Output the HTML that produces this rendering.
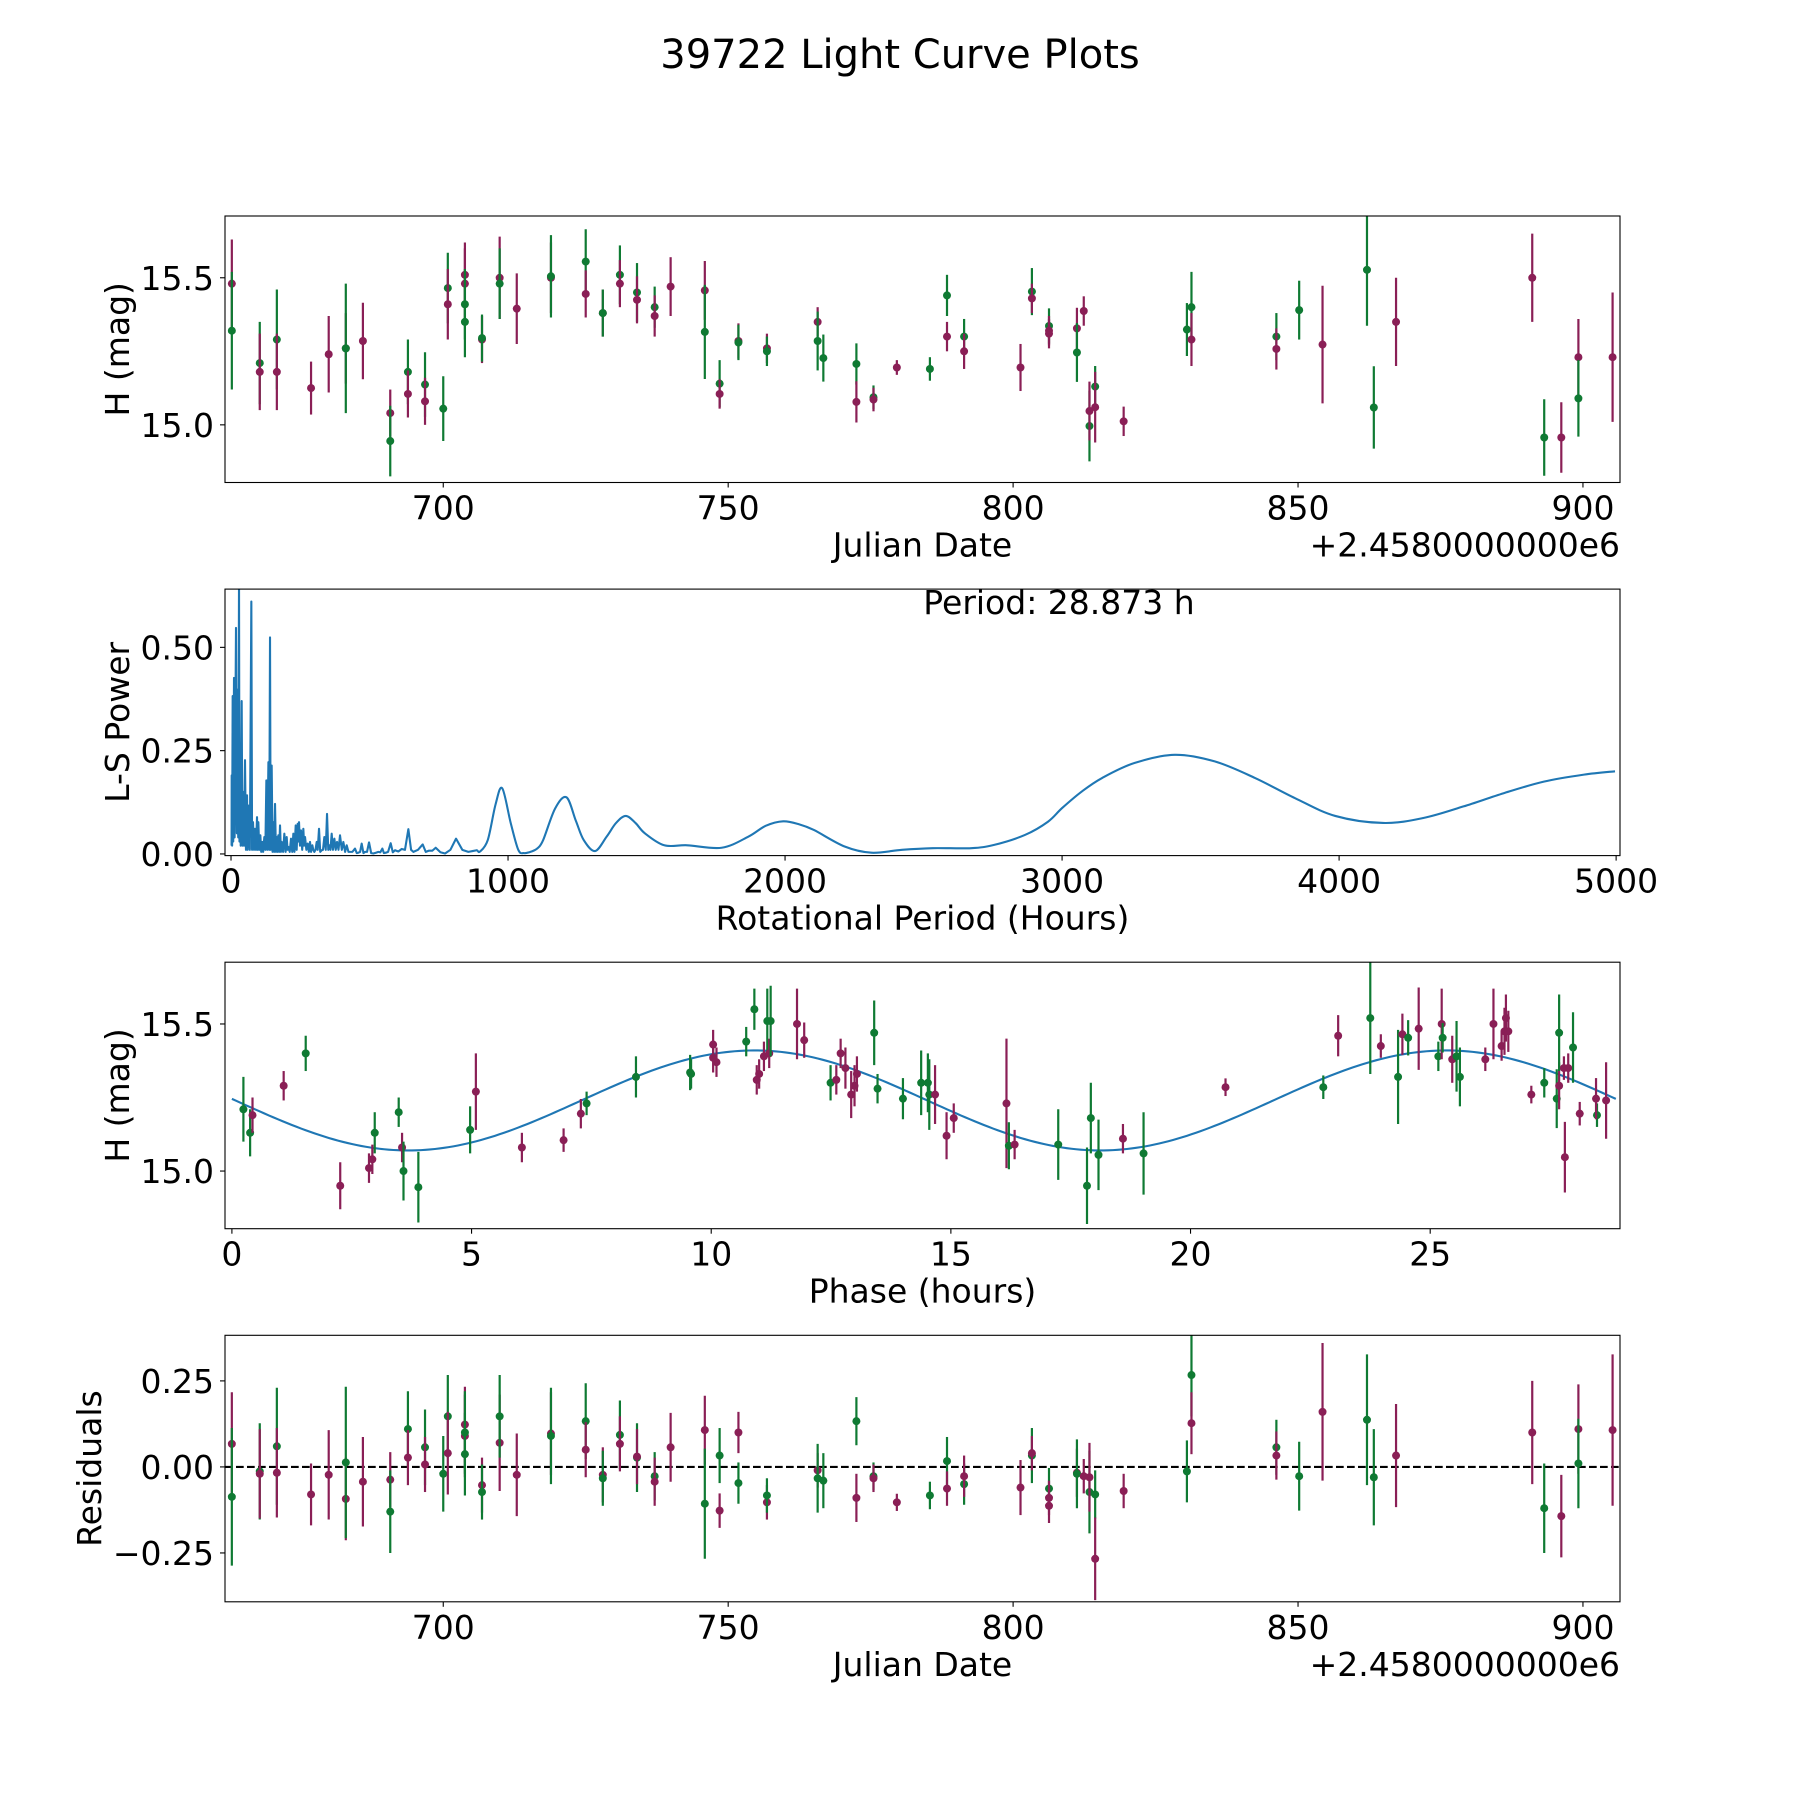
<!DOCTYPE html>
<html><head><meta charset="utf-8"><title>39722 Light Curve Plots</title>
<style>
html,body{margin:0;padding:0;background:#fff;}
svg{display:block;font-family:"DejaVu Sans","Liberation Sans",sans-serif;}
</style></head>
<body>
<svg id="fig" width="1800" height="1800" viewBox="0 0 1800 1800" xmlns="http://www.w3.org/2000/svg">
<rect x="0" y="0" width="1800" height="1800" fill="#fff"/>
<text x="900" y="68" font-size="40" text-anchor="middle" fill="#000">39722 Light Curve Plots</text>
</svg>
<script>
// ---- Panel 1 / 4 data (Julian Date offset by 2458000) ----
const obsDate = [662.9,662.9,667.8,667.8,670.8,670.8,676.8,679.9,682.9,682.9,685.9,690.7,690.7,693.8,693.8,696.8,696.8,700.0,700.8,700.8,703.8,703.8,703.8,703.8,706.8,706.8,709.9,709.9,712.9,718.9,718.9,725.0,725.0,728.0,728.0,731.0,731.0,734.0,734.0,737.1,737.1,739.9,745.9,745.9,748.5,748.5,751.8,751.8,756.8,756.8,765.7,765.7,766.7,772.5,772.5,775.5,775.5,779.6,785.4,788.4,788.4,791.4,791.4,801.3,803.3,803.3,806.3,806.3,806.3,811.2,811.2,812.4,813.4,813.4,814.4,814.4,819.4,830.5,831.3,831.3,846.2,846.2,850.2,854.3,862.1,863.3,867.2,891.1,893.2,896.2,899.2,899.2,905.2];
const obsMag = [15.48,15.32,15.21,15.18,15.29,15.18,15.125,15.24,15.26,15.26,15.285,15.04,14.945,15.18,15.105,15.137,15.08,15.055,15.465,15.41,15.51,15.48,15.41,15.35,15.29,15.295,15.50,15.48,15.395,15.50,15.505,15.555,15.445,15.38,15.38,15.51,15.48,15.45,15.425,15.40,15.37,15.47,15.457,15.316,15.14,15.105,15.285,15.28,15.26,15.25,15.35,15.285,15.227,15.207,15.078,15.094,15.086,15.195,15.19,15.44,15.30,15.30,15.25,15.195,15.453,15.43,15.336,15.31,15.32,15.328,15.246,15.387,14.996,15.047,15.13,15.06,15.012,15.324,15.40,15.29,15.30,15.258,15.39,15.273,15.527,15.059,15.35,15.50,14.957,14.957,15.23,15.09,15.23];
const obsErr = [0.15,0.20,0.14,0.13,0.17,0.13,0.09,0.13,0.12,0.22,0.13,0.08,0.12,0.11,0.08,0.11,0.08,0.11,0.12,0.12,0.11,0.12,0.12,0.12,0.08,0.08,0.14,0.12,0.12,0.12,0.14,0.11,0.08,0.08,0.08,0.10,0.08,0.10,0.08,0.07,0.07,0.10,0.10,0.16,0.08,0.05,0.06,0.06,0.05,0.05,0.05,0.10,0.08,0.07,0.07,0.04,0.04,0.025,0.04,0.07,0.05,0.06,0.06,0.08,0.08,0.05,0.06,0.05,0.05,0.07,0.10,0.05,0.12,0.10,0.07,0.12,0.05,0.09,0.12,0.09,0.08,0.07,0.10,0.20,0.19,0.14,0.15,0.15,0.13,0.12,0.13,0.13,0.22];
const obsBand = ["p","g","g","p","g","p","p","p","p","g","p","p","g","g","p","g","p","g","g","p","p","p","g","g","p","g","p","g","p","p","g","g","p","p","g","g","p","g","p","g","p","p","p","g","g","p","p","g","p","g","p","g","g","g","p","g","p","p","g","g","p","g","p","p","g","p","g","p","p","p","g","p","g","p","g","p","p","g","g","p","g","p","g","p","g","g","p","p","g","p","p","g","p"];
const obsResid = [0.067,-0.087,-0.013,-0.02,0.06,-0.017,-0.08,-0.023,-0.093,0.013,-0.043,-0.037,-0.13,0.11,0.027,0.057,0.007,-0.02,0.147,0.04,0.123,0.09,0.1,0.037,-0.053,-0.073,0.07,0.147,-0.023,0.097,0.09,0.133,0.05,-0.023,-0.033,0.093,0.067,0.027,0.03,-0.027,-0.043,0.057,0.107,-0.107,0.033,-0.127,0.1,-0.047,-0.103,-0.083,-0.01,-0.033,-0.04,0.133,-0.09,-0.027,-0.033,-0.103,-0.083,0.017,-0.063,-0.05,-0.027,-0.06,0.033,0.04,-0.063,-0.09,-0.113,-0.017,-0.02,-0.027,-0.073,-0.03,-0.08,-0.267,-0.07,-0.013,0.267,0.127,0.057,0.033,-0.027,0.16,0.137,-0.03,0.033,0.1,-0.12,-0.143,0.11,0.01,0.107];

// ---- Panel 2: Lomb-Scargle periodogram ----
const lsPeriod = [2,2.4,4,6,8,10.8,13,18,21,24.1,26,28.9,30.5,32.5,35,38.5,41,44.5,47,50.5,54,57.8,60,62.6,68,73.4,76,79.4,83,86.6,90,93.9,96,98.7,102,105.9,109,113.1,116,120.3,124,127.6,131,135,138,140.8,143,146.8,150,152.8,156,158.9,162,164.9,168,170.9,174,176.9,180,183,188,192.5,197,201,204,207,212,216.6,221,225,229,233.5,237,240.7,243,245.5,249,252.7,257,261.1,264,267.2,272,276.8,281,285.2,289,293.6,297,300.8,305,309.3,313,317.7,322,327.3,332,337,342,346.6,351,355,359,363.4,368,373.1,378,382.7,388,393.5,400,405.5,412,417.6,424,429.6,438,447.7,454,459.7,466,471.7,478,483.8,491,498.2,506,513.8,523,531.9,539,546.3,552,558.4,567,576.4,584,592.1,604,616.1,628,640.2,650,658.3,675,691.9,703,714.8,727,738.9,756,772.6,792,812.3,835,856.8,872,886.9,899,927,955,979,1010,1037,1058,1085,1107,1127,1170,1211,1245,1273,1314,1356,1390,1425,1460,1494,1564,1647,1771,1868,1930,1993,2050,2104,2215,2312,2422,2533,2672,2755,2866,2949,3000,3071,3145,3261,3406,3551,3696,3841,3986,4159,4304,4449,4594,4739,4884,4996];
const lsPower = [0.02,0.19,0.02,0.382,0.03,0.426,0.04,0.547,0.05,0.398,0.04,0.66,0.03,0.142,0.02,0.37,0.02,0.15,0.02,0.227,0.01,0.142,0.01,0.117,0.01,0.611,0.01,0.077,0.01,0.061,0.01,0.089,0.01,0.077,0.01,0.045,0.005,0.029,0.005,0.041,0.01,0.178,0.01,0.222,0.01,0.524,0.01,0.214,0.005,0.077,0.005,0.121,0.005,0.041,0.005,0.045,0.005,0.069,0.005,0.029,0.005,0.049,0.005,0.041,0.01,0.017,0.005,0.037,0.005,0.049,0.005,0.069,0.01,0.073,0.03,0.077,0.02,0.057,0.01,0.061,0.02,0.041,0.01,0.025,0.005,0.029,0.005,0.021,0.01,0.005,0.01,0.029,0.01,0.061,0.005,0.009,0.01,0.041,0.01,0.097,0.01,0.021,0.01,0.049,0.01,0.037,0.01,0.029,0.01,0.045,0.01,0.029,0.005,0.021,0.005,0.005,0.005,0.013,0.002,0.003,0.005,0.025,0.002,0.005,0.005,0.028,0.002,0.001,0.003,0.005,0.004,0.013,0.002,0.003,0.005,0.026,0.004,0.009,0.006,0.012,0.01,0.06,0.01,0.005,0.01,0.023,0.005,0.008,0.008,0.015,0.004,0.001,0.01,0.037,0.01,0.005,0.007,0.009,0.006,0.034,0.12,0.159,0.074,0.010,0.002,0.006,0.014,0.034,0.11,0.137,0.08,0.034,0.007,0.042,0.075,0.092,0.075,0.050,0.021,0.021,0.015,0.042,0.068,0.079,0.072,0.058,0.018,0.003,0.010,0.014,0.014,0.022,0.046,0.078,0.111,0.151,0.184,0.220,0.240,0.224,0.184,0.135,0.092,0.075,0.087,0.115,0.147,0.175,0.192,0.200];
const lsTicksX = [0,1000,2000,3000,4000,5000];
const lsTicksY = [0.00,0.25,0.50];
const bestPeriodLabel = "Period: 28.873 h";

// ---- Panel 3: phased light curve ----
const phaseHr = [0.24,0.38,0.43,1.08,1.54,2.26,2.86,2.93,2.98,3.48,3.55,3.58,3.89,4.97,5.09,6.05,6.92,7.28,7.40,8.43,9.56,9.58,10.04,10.04,10.11,10.73,10.90,10.95,11.00,11.10,11.17,11.21,11.24,11.79,11.94,12.49,12.61,12.70,12.80,12.92,12.99,13.04,13.40,13.47,14.00,14.38,14.52,14.55,14.67,14.91,15.06,16.16,16.21,16.33,17.24,17.84,17.92,18.08,18.59,19.02,20.73,22.77,23.08,23.75,23.97,24.33,24.42,24.54,24.76,25.17,25.24,25.26,25.46,25.55,25.62,26.15,26.32,26.49,26.55,26.58,26.63,27.11,27.38,27.64,27.69,27.69,27.79,27.81,27.88,27.98,28.12,28.48,28.46,28.67];
const phaseMag = [15.21,15.13,15.19,15.29,15.40,14.95,15.01,15.04,15.13,15.20,15.08,15.00,14.945,15.14,15.27,15.08,15.105,15.195,15.23,15.32,15.335,15.33,15.385,15.43,15.37,15.44,15.55,15.31,15.33,15.39,15.51,15.40,15.51,15.50,15.445,15.30,15.31,15.40,15.35,15.26,15.29,15.33,15.47,15.28,15.246,15.30,15.30,15.26,15.26,15.12,15.18,15.23,15.086,15.09,15.09,14.95,15.18,15.055,15.11,15.06,15.285,15.285,15.46,15.52,15.425,15.32,15.465,15.453,15.484,15.39,15.50,15.453,15.38,15.39,15.32,15.38,15.50,15.425,15.475,15.52,15.475,15.26,15.30,15.246,15.29,15.47,15.35,15.047,15.35,15.42,15.195,15.19,15.246,15.24];
const phaseErr = [0.11,0.08,0.06,0.05,0.06,0.08,0.05,0.05,0.07,0.05,0.05,0.10,0.12,0.08,0.13,0.05,0.04,0.05,0.04,0.07,0.06,0.05,0.05,0.05,0.05,0.05,0.07,0.05,0.05,0.05,0.11,0.05,0.12,0.12,0.06,0.06,0.05,0.05,0.07,0.08,0.07,0.06,0.11,0.05,0.07,0.11,0.10,0.12,0.10,0.08,0.05,0.22,0.08,0.05,0.12,0.13,0.12,0.12,0.05,0.14,0.03,0.04,0.07,0.19,0.04,0.16,0.07,0.06,0.14,0.05,0.12,0.05,0.08,0.12,0.10,0.04,0.12,0.05,0.08,0.08,0.07,0.03,0.05,0.10,0.08,0.13,0.04,0.12,0.05,0.12,0.04,0.04,0.07,0.13];
const phaseBand = ["g","g","p","p","g","p","p","p","g","g","p","g","g","g","p","p","p","p","g","g","g","g","p","p","p","g","g","p","p","p","g","p","g","p","p","g","p","p","p","p","p","p","g","g","g","g","g","g","p","p","p","p","g","p","g","g","g","g","p","g","p","g","p","g","p","g","p","g","p","g","p","g","p","g","g","p","p","p","p","p","p","p","g","g","p","g","p","p","p","g","p","g","p","p"];
const fitMean = [15.24];
const fitAmp = [0.17];
const fitPeak = [10.9];
const rotPeriodHr = [28.873];

const jdTicks = [700,750,800,850,900];
const magTicks = [15.0,15.5];
const phaseTicks = [0,5,10,15,20,25];
const residTicks = [-0.25,0.00,0.25];

const PURPLE = "#8a1f56", GREEN = "#0f7a33", BLUE = "#1f77b4";
const svg = document.getElementById('fig');
const NS = "http://www.w3.org/2000/svg";
const AX_L = 225, AX_R = 1620, AX_H = 266.5, AX_GAP = 106.6, AX_T0 = 216;
const FS = 33;

function mk(tag, attrs, parent) {
  const e = document.createElementNS(NS, tag);
  for (const k in attrs) e.setAttribute(k, attrs[k]);
  (parent || svg).appendChild(e);
  return e;
}
function linScale(d0, d1, r0, r1) { return v => r0 + (v - d0) / (d1 - d0) * (r1 - r0); }
function fmt(v, dec) { const s = v.toFixed(dec); return s.startsWith('-') ? '\u2212' + s.slice(1) : s; }

function makeAxes(idx, xlim, ylim, name) {
  const top = AX_T0 + idx * (AX_H + AX_GAP), bot = top + AX_H;
  const g = mk('g', {});
  
  
  const clipId = 'clip' + idx;
  const cp = mk('clipPath', {id: clipId}, g);
  mk('rect', {x: AX_L, y: top, width: AX_R - AX_L, height: AX_H}, cp);
  const plot = mk('g', {'clip-path': 'url(#' + clipId + ')'}, g);
  
  
  return {g, plot, top, bot, x: linScale(xlim[0], xlim[1], AX_L, AX_R), y: linScale(ylim[0], ylim[1], bot, top)};
}
function finishAxes(ax, xt, xdec, yt, ydec, xlabel, ylabel, ylabelX, name) {
  const frame = mk('rect', {x: AX_L, y: ax.top, width: AX_R - AX_L, height: AX_H, fill: 'none', stroke: '#000', 'stroke-width': 1.1}, ax.g);
  
  
  xt.forEach(v => {
    const px = ax.x(v);
    const t = mk('line', {x1: px, x2: px, y1: ax.bot, y2: ax.bot + 5, stroke: '#000', 'stroke-width': 1.1}, ax.g);
    
    
    const l = mk('text', {x: px, y: ax.bot + 37, 'font-size': FS, 'text-anchor': 'middle'}, ax.g);
    l.textContent = fmt(v, xdec);
    
    
  });
  yt.forEach(v => {
    const py = ax.y(v);
    const t = mk('line', {x1: AX_L - 5, x2: AX_L, y1: py, y2: py, stroke: '#000', 'stroke-width': 1.1}, ax.g);
    
    
    const l = mk('text', {x: AX_L - 11, y: py + 12, 'font-size': FS, 'text-anchor': 'end'}, ax.g);
    l.textContent = fmt(v, ydec);
    
    
  });
  const xl = mk('text', {x: (AX_L + AX_R) / 2, y: ax.bot + 74, 'font-size': FS, 'text-anchor': 'middle'}, ax.g);
  xl.textContent = xlabel;
  
  
  const cy = (ax.top + ax.bot) / 2;
  const yl = mk('text', {x: ylabelX, y: cy, 'font-size': FS, 'text-anchor': 'middle', transform: 'rotate(-90 ' + ylabelX + ' ' + cy + ')'}, ax.g);
  yl.textContent = ylabel;
  
  
}
function offsetText(ax, name) {
  const o = mk('text', {x: AX_R, y: ax.bot + 74, 'font-size': FS, 'text-anchor': 'end'}, ax.g);
  o.textContent = '+2.4580000000e6';
  
  
}
function errPoint(ax, xv, yv, ev, band, name) {
  const col = band === 'p' ? PURPLE : GREEN;
  const px = ax.x(xv), py = ax.y(yv);
  const bar = mk('line', {x1: px, x2: px, y1: ax.y(yv - ev), y2: ax.y(yv + ev), stroke: col, 'stroke-width': 2.2}, ax.plot);
  
  
  const c = mk('circle', {cx: px, cy: py, r: 4, fill: col}, ax.plot);
  
  
}

// Panel 1
const ax1 = makeAxes(0, [661.7, 906.5], [14.804, 15.71], 'light-curve-panel');
obsDate.forEach((d, i) => errPoint(ax1, d, obsMag[i], obsErr[i], obsBand[i], 'light-curve'));
finishAxes(ax1, jdTicks, 0, magTicks, 1, 'Julian Date', 'H (mag)', 129, 'light-curve');
offsetText(ax1, 'light-curve');

// Panel 2 (spiky part as straight segments, smooth long-period part as Catmull-Rom spline)
const ax2 = makeAxes(1, [-21.7, 5014], [-0.004, 0.641], 'periodogram-panel');
const P = lsPeriod.map((p, i) => [ax2.x(p), ax2.y(lsPower[i])]);
let d = 'M' + P[0][0].toFixed(2) + ',' + P[0][1].toFixed(2);
for (let i = 1; i < P.length; i++) {
  if (lsPeriod[i] <= 890) { d += ' L' + P[i][0].toFixed(2) + ',' + P[i][1].toFixed(2); continue; }
  const p0 = P[i - 2] || P[i - 1], p1 = P[i - 1], p2 = P[i], p3 = P[i + 1] || P[i];
  const c1x = p1[0] + (p2[0] - p0[0]) / 6, c1y = p1[1] + (p2[1] - p0[1]) / 6;
  const c2x = p2[0] - (p3[0] - p1[0]) / 6, c2y = p2[1] - (p3[1] - p1[1]) / 6;
  d += ' C' + c1x.toFixed(2) + ',' + c1y.toFixed(2) + ' ' + c2x.toFixed(2) + ',' + c2y.toFixed(2) + ' ' + p2[0].toFixed(2) + ',' + p2[1].toFixed(2);
}
const lsLine = mk('path', {d: d, fill: 'none', stroke: BLUE, 'stroke-width': 2.1, 'stroke-linejoin': 'round'}, ax2.plot);


finishAxes(ax2, lsTicksX, 0, lsTicksY, 2, 'Rotational Period (Hours)', 'L-S Power', 129, 'periodogram');
const pl = mk('text', {x: 1059, y: 614, 'font-size': FS, 'text-anchor': 'middle'}, ax2.g);
pl.textContent = bestPeriodLabel;



// Panel 3
const ax3 = makeAxes(2, [-0.144, 28.96], [14.804, 15.71], 'phase-panel');
const fitPts = [];
for (let k = 0; k <= 300; k++) {
  const ph = rotPeriodHr[0] * k / 300;
  const m = fitMean[0] + fitAmp[0] * Math.cos(2 * Math.PI * (ph - fitPeak[0]) / (rotPeriodHr[0] / 2));
  fitPts.push(ax3.x(ph).toFixed(2) + ',' + ax3.y(m).toFixed(2));
}
const fitLine = mk('polyline', {points: fitPts.join(' '), fill: 'none', stroke: BLUE, 'stroke-width': 2.1}, ax3.plot);


phaseHr.forEach((p, i) => errPoint(ax3, p, phaseMag[i], phaseErr[i], phaseBand[i], 'phase'));
finishAxes(ax3, phaseTicks, 0, magTicks, 1, 'Phase (hours)', 'H (mag)', 129, 'phase');

// Panel 4
const ax4 = makeAxes(3, [661.7, 906.5], [-0.392, 0.3825], 'residuals-panel');
const zl = mk('line', {x1: AX_L, x2: AX_R, y1: ax4.y(0), y2: ax4.y(0), stroke: '#000', 'stroke-width': 2.1, 'stroke-dasharray': '7.7,3.3'}, ax4.plot);


obsDate.forEach((d, i) => errPoint(ax4, d, obsResid[i], obsErr[i], obsBand[i], 'residual'));
finishAxes(ax4, jdTicks, 0, residTicks, 2, 'Julian Date', 'Residuals', 101, 'residuals');
offsetText(ax4, 'residuals');
</script>
</body></html>
